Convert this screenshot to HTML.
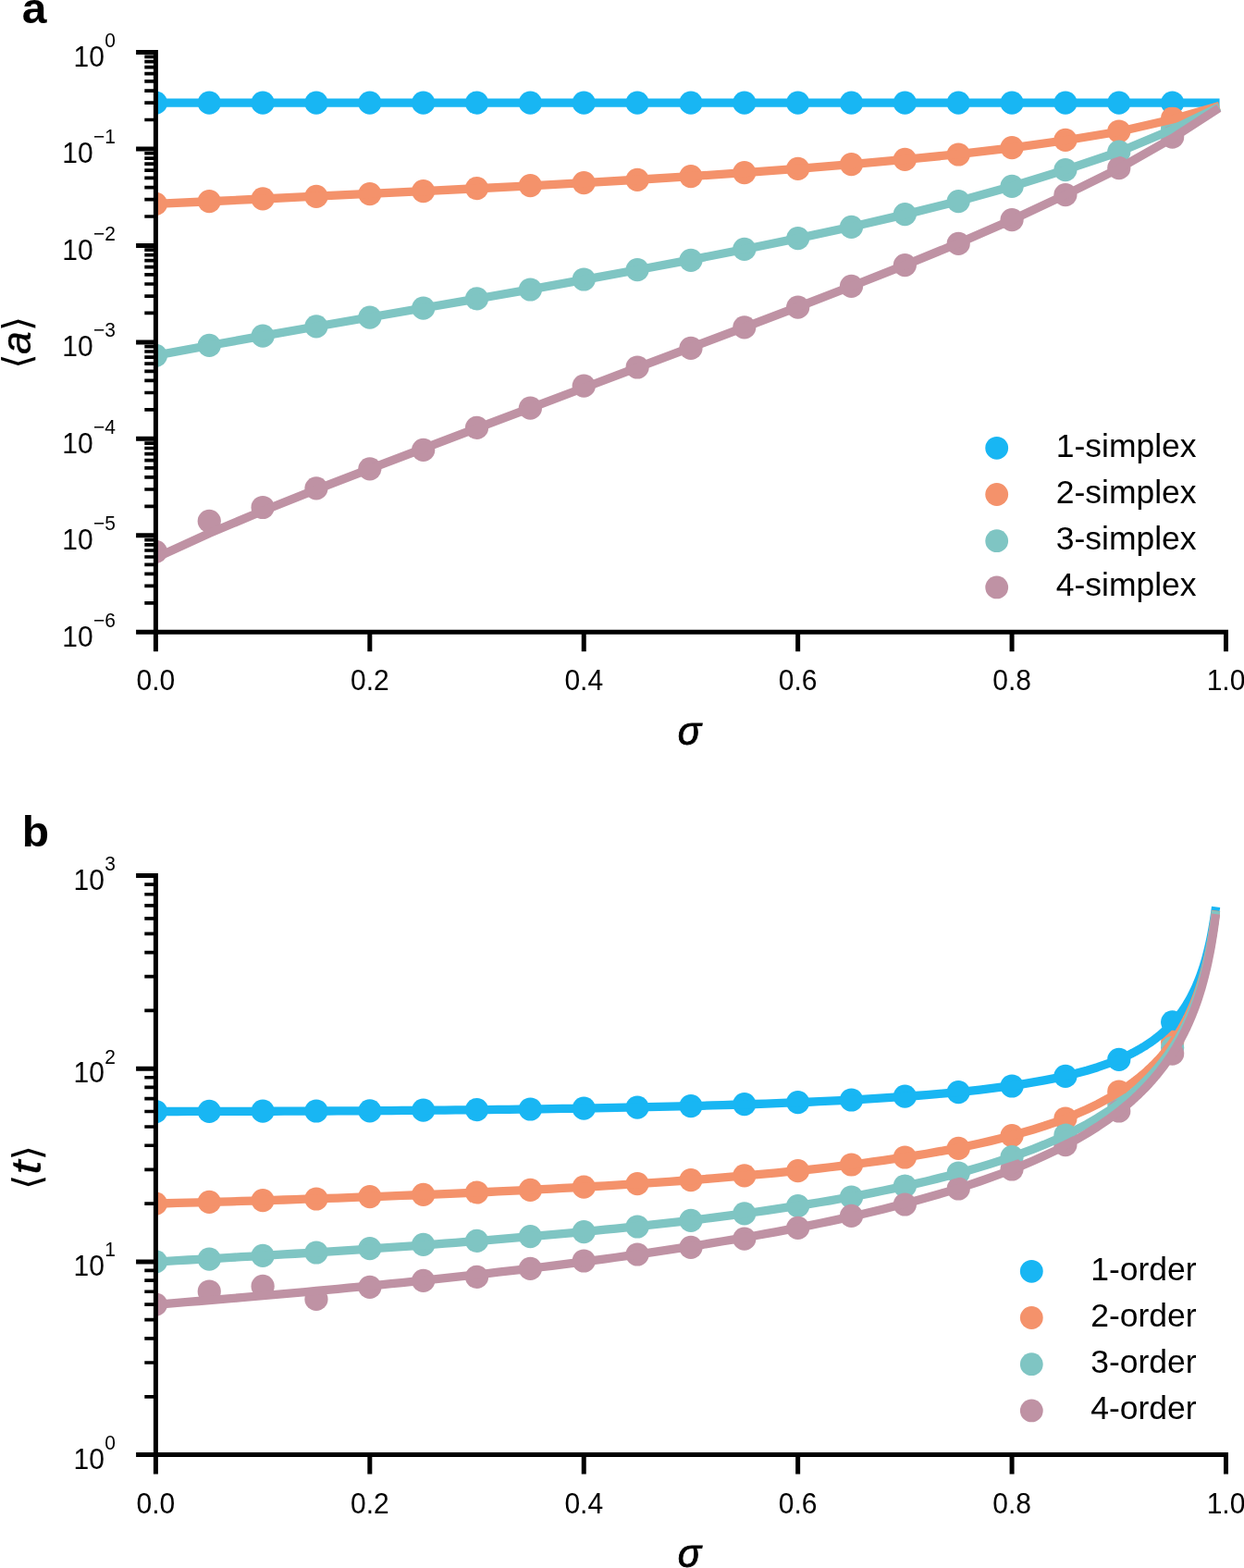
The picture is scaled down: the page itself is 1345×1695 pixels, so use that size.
<!DOCTYPE html>
<html lang="en"><head><meta charset="utf-8"><title>Figure</title>
<style>
html,body{margin:0;padding:0;background:#fff;}
body{width:1345px;height:1695px;overflow:hidden;}
svg{display:block;}
text{font-family:"Liberation Sans",Arial,Helvetica,sans-serif;fill:#000;}
.tk{font-size:30px;}
.sup{font-size:21px;}
.lg{font-size:35.5px;}
.pl{font-size:48px;font-weight:bold;}
.ax{font-size:44px;font-style:italic;stroke:#000;stroke-width:0.4px;}
.sg{font-size:42px;stroke-width:0.8px;}
.br{font-family:"DejaVu Sans","Liberation Sans",sans-serif;font-size:41.8px;}
</style></head><body>
<svg width="1345" height="1695" viewBox="0 0 1345 1695">
<rect x="0" y="0" width="1345" height="1695" fill="#fff"/>
<defs>
<clipPath id="ca"><rect x="168.4" y="56.5" width="1157.1" height="626.8"/></clipPath>
<clipPath id="cb"><rect x="168.4" y="946.5" width="1157.1" height="626.1"/></clipPath>
</defs>
<g clip-path="url(#ca)">
<g fill="#18b6f3">
<circle cx="168.4" cy="111.2" r="12.6"/>
<circle cx="226.25" cy="111.2" r="12.6"/>
<circle cx="284.11" cy="111.2" r="12.6"/>
<circle cx="341.96" cy="111.2" r="12.6"/>
<circle cx="399.82" cy="111.2" r="12.6"/>
<circle cx="457.67" cy="111.2" r="12.6"/>
<circle cx="515.53" cy="111.2" r="12.6"/>
<circle cx="573.38" cy="111.2" r="12.6"/>
<circle cx="631.24" cy="111.2" r="12.6"/>
<circle cx="689.09" cy="111.2" r="12.6"/>
<circle cx="746.95" cy="111.2" r="12.6"/>
<circle cx="804.8" cy="111.2" r="12.6"/>
<circle cx="862.66" cy="111.2" r="12.6"/>
<circle cx="920.51" cy="111.2" r="12.6"/>
<circle cx="978.37" cy="111.2" r="12.6"/>
<circle cx="1036.22" cy="111.2" r="12.6"/>
<circle cx="1094.08" cy="111.2" r="12.6"/>
<circle cx="1151.93" cy="111.2" r="12.6"/>
<circle cx="1209.79" cy="111.2" r="12.6"/>
<circle cx="1267.64" cy="111.2" r="12.6"/>
</g>
<g fill="#f4926b">
<circle cx="168.4" cy="220.4" r="12.6"/>
<circle cx="226.25" cy="217.6" r="12.6"/>
<circle cx="284.11" cy="214.8" r="12.6"/>
<circle cx="341.96" cy="212.4" r="12.6"/>
<circle cx="399.82" cy="209.6" r="12.6"/>
<circle cx="457.67" cy="206.6" r="12.6"/>
<circle cx="515.53" cy="203.6" r="12.6"/>
<circle cx="573.38" cy="200.6" r="12.6"/>
<circle cx="631.24" cy="197.6" r="12.6"/>
<circle cx="689.09" cy="194.4" r="12.6"/>
<circle cx="746.95" cy="190.6" r="12.6"/>
<circle cx="804.8" cy="186.6" r="12.6"/>
<circle cx="862.66" cy="182.4" r="12.6"/>
<circle cx="920.51" cy="177.6" r="12.6"/>
<circle cx="978.37" cy="172.4" r="12.6"/>
<circle cx="1036.22" cy="167" r="12.6"/>
<circle cx="1094.08" cy="159.6" r="12.6"/>
<circle cx="1151.93" cy="151.4" r="12.6"/>
<circle cx="1209.79" cy="142" r="12.6"/>
<circle cx="1267.64" cy="127.8" r="12.6"/>
</g>
<g fill="#7fc5c3">
<circle cx="168.4" cy="384.3" r="12.6"/>
<circle cx="226.25" cy="373.4" r="12.6"/>
<circle cx="284.11" cy="363.2" r="12.6"/>
<circle cx="341.96" cy="352.8" r="12.6"/>
<circle cx="399.82" cy="343.2" r="12.6"/>
<circle cx="457.67" cy="333.2" r="12.6"/>
<circle cx="515.53" cy="322.8" r="12.6"/>
<circle cx="573.38" cy="313" r="12.6"/>
<circle cx="631.24" cy="302" r="12.6"/>
<circle cx="689.09" cy="291.6" r="12.6"/>
<circle cx="746.95" cy="281.3" r="12.6"/>
<circle cx="804.8" cy="269.4" r="12.6"/>
<circle cx="862.66" cy="257.6" r="12.6"/>
<circle cx="920.51" cy="245.4" r="12.6"/>
<circle cx="978.37" cy="231.6" r="12.6"/>
<circle cx="1036.22" cy="217.6" r="12.6"/>
<circle cx="1094.08" cy="201.4" r="12.6"/>
<circle cx="1151.93" cy="183.6" r="12.6"/>
<circle cx="1209.79" cy="164.1" r="12.6"/>
<circle cx="1267.64" cy="138.5" r="12.6"/>
</g>
<g fill="#bf92a4">
<circle cx="168.4" cy="596.4" r="12.6"/>
<circle cx="226.25" cy="563.3" r="12.6"/>
<circle cx="284.11" cy="548.5" r="12.6"/>
<circle cx="341.96" cy="527.8" r="12.6"/>
<circle cx="399.82" cy="506.8" r="12.6"/>
<circle cx="457.67" cy="486.4" r="12.6"/>
<circle cx="515.53" cy="462.4" r="12.6"/>
<circle cx="573.38" cy="441.2" r="12.6"/>
<circle cx="631.24" cy="417.2" r="12.6"/>
<circle cx="689.09" cy="397" r="12.6"/>
<circle cx="746.95" cy="376.4" r="12.6"/>
<circle cx="804.8" cy="353.8" r="12.6"/>
<circle cx="862.66" cy="332.2" r="12.6"/>
<circle cx="920.51" cy="309.3" r="12.6"/>
<circle cx="978.37" cy="286.6" r="12.6"/>
<circle cx="1036.22" cy="263.4" r="12.6"/>
<circle cx="1094.08" cy="237.6" r="12.6"/>
<circle cx="1151.93" cy="210.6" r="12.6"/>
<circle cx="1209.79" cy="181.7" r="12.6"/>
<circle cx="1267.64" cy="148.1" r="12.6"/>
</g>
<polyline fill="none" stroke="#18b6f3" stroke-width="9.3" stroke-linecap="square" stroke-linejoin="round" points="168.4,111.2 226.25,111.2 284.11,111.2 341.96,111.2 399.82,111.2 457.67,111.2 515.53,111.2 573.38,111.2 631.24,111.2 689.09,111.2 746.95,111.2 804.8,111.2 862.66,111.2 920.51,111.2 978.37,111.2 1036.22,111.2 1094.08,111.2 1151.93,111.2 1209.79,111.2 1267.64,111.2 1313.93,111.2"/>
<polyline fill="none" stroke="#f4926b" stroke-width="9.3" stroke-linecap="square" stroke-linejoin="round" points="168.4,220.3 226.25,217.75 284.11,214.99 341.96,212.18 399.82,209.38 457.67,206.59 515.53,203.75 573.38,200.79 631.24,197.64 689.09,194.25 746.95,190.59 804.8,186.61 862.66,182.31 920.51,177.63 978.37,172.48 1036.22,166.67 1094.08,159.92 1151.93,151.74 1209.79,142.23 1267.64,128.99 1313.93,115.7"/>
<polyline fill="none" stroke="#7fc5c3" stroke-width="9.3" stroke-linecap="square" stroke-linejoin="round" points="168.4,384.25 226.25,373.5 284.11,363.13 341.96,353 399.82,343 457.67,333.02 515.53,322.98 573.38,312.8 631.24,302.41 689.09,291.77 746.95,280.82 804.8,269.47 862.66,257.64 920.51,245.18 978.37,231.89 1036.22,217.47 1094.08,201.54 1151.93,183.57 1209.79,164.27 1267.64,140.06 1313.93,117.7"/>
<polyline fill="none" stroke="#bf92a4" stroke-width="9.3" stroke-linecap="square" stroke-linejoin="round" points="168.4,603.05 226.25,576.58 284.11,552.24 341.96,529.19 399.82,506.84 457.67,484.82 515.53,462.93 573.38,441.08 631.24,419.25 689.09,397.43 746.95,375.62 804.8,353.78 862.66,331.81 920.51,309.52 978.37,286.67 1036.22,262.88 1094.08,237.71 1151.93,210.6 1209.79,182.14 1267.64,149.32 1313.93,119.4"/>
</g>
<g stroke="#000" fill="none" stroke-linecap="butt">
<path stroke-width="3.7" d="M156.3 129.52H168.4M156.3 111.12H168.4M156.3 98.07H168.4M156.3 87.95H168.4M156.3 79.68H168.4M156.3 72.68H168.4M156.3 66.62H168.4M156.3 61.28H168.4M156.3 233.99H168.4M156.3 215.59H168.4M156.3 202.54H168.4M156.3 192.41H168.4M156.3 184.14H168.4M156.3 177.15H168.4M156.3 171.09H168.4M156.3 165.75H168.4M156.3 338.45H168.4M156.3 320.06H168.4M156.3 307H168.4M156.3 296.88H168.4M156.3 288.61H168.4M156.3 281.62H168.4M156.3 275.56H168.4M156.3 270.21H168.4M156.3 442.92H168.4M156.3 424.52H168.4M156.3 411.47H168.4M156.3 401.35H168.4M156.3 393.08H168.4M156.3 386.08H168.4M156.3 380.02H168.4M156.3 374.68H168.4M156.3 547.39H168.4M156.3 528.99H168.4M156.3 515.94H168.4M156.3 505.81H168.4M156.3 497.54H168.4M156.3 490.55H168.4M156.3 484.49H168.4M156.3 479.15H168.4M156.3 651.85H168.4M156.3 633.46H168.4M156.3 620.4H168.4M156.3 610.28H168.4M156.3 602.01H168.4M156.3 595.02H168.4M156.3 588.96H168.4M156.3 583.61H168.4"/>
<path stroke-width="5" d="M147.1 56.5H168.4M147.1 160.97H168.4M147.1 265.43H168.4M147.1 369.9H168.4M147.1 474.37H168.4M147.1 578.83H168.4M147.1 683.3H168.4M168.4 683.3V704.3M399.82 683.3V704.3M631.24 683.3V704.3M862.66 683.3V704.3M1094.08 683.3V704.3M1325.5 683.3V704.3M168.4 54V685.8M165.9 683.3H1328"/>
</g>
<text class="tk" transform="translate(124.9,71.7) scale(1,1.03)" text-anchor="end">10<tspan class="sup" dx="0.4" dy="-20.19">0</tspan></text>
<text class="tk" transform="translate(124.9,176.17) scale(1,1.03)" text-anchor="end">10<tspan class="sup" dx="0.4" dy="-20.19">−1</tspan></text>
<text class="tk" transform="translate(124.9,280.63) scale(1,1.03)" text-anchor="end">10<tspan class="sup" dx="0.4" dy="-20.19">−2</tspan></text>
<text class="tk" transform="translate(124.9,385.1) scale(1,1.03)" text-anchor="end">10<tspan class="sup" dx="0.4" dy="-20.19">−3</tspan></text>
<text class="tk" transform="translate(124.9,489.57) scale(1,1.03)" text-anchor="end">10<tspan class="sup" dx="0.4" dy="-20.19">−4</tspan></text>
<text class="tk" transform="translate(124.9,594.03) scale(1,1.03)" text-anchor="end">10<tspan class="sup" dx="0.4" dy="-20.19">−5</tspan></text>
<text class="tk" transform="translate(124.9,698.5) scale(1,1.03)" text-anchor="end">10<tspan class="sup" dx="0.4" dy="-20.19">−6</tspan></text>
<text class="tk" transform="translate(168.4,746.4) scale(1,1.03)" text-anchor="middle">0.0</text>
<text class="tk" transform="translate(399.82,746.4) scale(1,1.03)" text-anchor="middle">0.2</text>
<text class="tk" transform="translate(631.24,746.4) scale(1,1.03)" text-anchor="middle">0.4</text>
<text class="tk" transform="translate(862.66,746.4) scale(1,1.03)" text-anchor="middle">0.6</text>
<text class="tk" transform="translate(1094.08,746.4) scale(1,1.03)" text-anchor="middle">0.8</text>
<text class="tk" transform="translate(1325.5,746.4) scale(1,1.03)" text-anchor="middle">1.0</text>
<text class="ax sg" x="732.7" y="804.6">σ</text>
<text class="br" transform="translate(32.9,398.8) rotate(-90)">⟨</text>
<text class="ax" transform="translate(33,382.75) rotate(-90) scale(1,1)">a</text>
<text class="br" transform="translate(32.9,357.9) rotate(-90)">⟩</text>
<text class="pl" transform="translate(23.7,25.1) scale(1,0.965)">a</text>
<circle cx="1077.7" cy="484.3" r="12.4" fill="#18b6f3"/>
<text class="lg" x="1293.6" y="493.8" text-anchor="end">1-simplex</text>
<circle cx="1077.7" cy="534.5" r="12.4" fill="#f4926b"/>
<text class="lg" x="1293.6" y="544" text-anchor="end">2-simplex</text>
<circle cx="1077.7" cy="584.7" r="12.4" fill="#7fc5c3"/>
<text class="lg" x="1293.6" y="594.2" text-anchor="end">3-simplex</text>
<circle cx="1077.7" cy="634.9" r="12.4" fill="#bf92a4"/>
<text class="lg" x="1293.6" y="644.4" text-anchor="end">4-simplex</text>
<g clip-path="url(#cb)">
<g fill="#18b6f3">
<circle cx="168.4" cy="1201.5" r="12.6"/>
<circle cx="226.25" cy="1201.4" r="12.6"/>
<circle cx="284.11" cy="1201.2" r="12.6"/>
<circle cx="341.96" cy="1201" r="12.6"/>
<circle cx="399.82" cy="1200.8" r="12.6"/>
<circle cx="457.67" cy="1200.2" r="12.6"/>
<circle cx="515.53" cy="1199.6" r="12.6"/>
<circle cx="573.38" cy="1199" r="12.6"/>
<circle cx="631.24" cy="1198.2" r="12.6"/>
<circle cx="689.09" cy="1197.1" r="12.6"/>
<circle cx="746.95" cy="1195.6" r="12.6"/>
<circle cx="804.8" cy="1193.6" r="12.6"/>
<circle cx="862.66" cy="1191.6" r="12.6"/>
<circle cx="920.51" cy="1189" r="12.6"/>
<circle cx="978.37" cy="1185.2" r="12.6"/>
<circle cx="1036.22" cy="1180.6" r="12.6"/>
<circle cx="1094.08" cy="1174" r="12.6"/>
<circle cx="1151.93" cy="1163.4" r="12.6"/>
<circle cx="1209.79" cy="1145.4" r="12.6"/>
<circle cx="1267.64" cy="1104.8" r="12.6"/>
</g>
<g fill="#f4926b">
<circle cx="168.4" cy="1301.1" r="12.6"/>
<circle cx="226.25" cy="1299.4" r="12.6"/>
<circle cx="284.11" cy="1297.6" r="12.6"/>
<circle cx="341.96" cy="1296" r="12.6"/>
<circle cx="399.82" cy="1293.6" r="12.6"/>
<circle cx="457.67" cy="1291.4" r="12.6"/>
<circle cx="515.53" cy="1289" r="12.6"/>
<circle cx="573.38" cy="1286.4" r="12.6"/>
<circle cx="631.24" cy="1283.2" r="12.6"/>
<circle cx="689.09" cy="1279.6" r="12.6"/>
<circle cx="746.95" cy="1275.6" r="12.6"/>
<circle cx="804.8" cy="1270.8" r="12.6"/>
<circle cx="862.66" cy="1265.6" r="12.6"/>
<circle cx="920.51" cy="1259" r="12.6"/>
<circle cx="978.37" cy="1251" r="12.6"/>
<circle cx="1036.22" cy="1241.4" r="12.6"/>
<circle cx="1094.08" cy="1227.6" r="12.6"/>
<circle cx="1151.93" cy="1209" r="12.6"/>
<circle cx="1209.79" cy="1180" r="12.6"/>
<circle cx="1267.64" cy="1126.4" r="12.6"/>
</g>
<g fill="#7fc5c3">
<circle cx="168.4" cy="1363.9" r="12.6"/>
<circle cx="226.25" cy="1361.2" r="12.6"/>
<circle cx="284.11" cy="1357.4" r="12.6"/>
<circle cx="341.96" cy="1354" r="12.6"/>
<circle cx="399.82" cy="1349.6" r="12.6"/>
<circle cx="457.67" cy="1345.4" r="12.6"/>
<circle cx="515.53" cy="1341.4" r="12.6"/>
<circle cx="573.38" cy="1336.6" r="12.6"/>
<circle cx="631.24" cy="1331.6" r="12.6"/>
<circle cx="689.09" cy="1326" r="12.6"/>
<circle cx="746.95" cy="1319.4" r="12.6"/>
<circle cx="804.8" cy="1311.8" r="12.6"/>
<circle cx="862.66" cy="1303.6" r="12.6"/>
<circle cx="920.51" cy="1294" r="12.6"/>
<circle cx="978.37" cy="1282" r="12.6"/>
<circle cx="1036.22" cy="1268" r="12.6"/>
<circle cx="1094.08" cy="1250.6" r="12.6"/>
<circle cx="1151.93" cy="1227" r="12.6"/>
<circle cx="1209.79" cy="1193" r="12.6"/>
<circle cx="1267.64" cy="1132.6" r="12.6"/>
</g>
<g fill="#bf92a4">
<circle cx="168.4" cy="1410" r="12.6"/>
<circle cx="226.25" cy="1396" r="12.6"/>
<circle cx="284.11" cy="1390.4" r="12.6"/>
<circle cx="341.96" cy="1404.4" r="12.6"/>
<circle cx="399.82" cy="1391.4" r="12.6"/>
<circle cx="457.67" cy="1384.4" r="12.6"/>
<circle cx="515.53" cy="1380.4" r="12.6"/>
<circle cx="573.38" cy="1371.4" r="12.6"/>
<circle cx="631.24" cy="1363" r="12.6"/>
<circle cx="689.09" cy="1356" r="12.6"/>
<circle cx="746.95" cy="1348.4" r="12.6"/>
<circle cx="804.8" cy="1339.2" r="12.6"/>
<circle cx="862.66" cy="1327.4" r="12.6"/>
<circle cx="920.51" cy="1314.4" r="12.6"/>
<circle cx="978.37" cy="1302" r="12.6"/>
<circle cx="1036.22" cy="1285" r="12.6"/>
<circle cx="1094.08" cy="1264" r="12.6"/>
<circle cx="1151.93" cy="1237.6" r="12.6"/>
<circle cx="1209.79" cy="1201" r="12.6"/>
<circle cx="1267.64" cy="1139.1" r="12.6"/>
</g>
<polyline fill="none" stroke="#18b6f3" stroke-width="9.3" stroke-linecap="square" stroke-linejoin="round" points="168.4,1201.5 179.97,1201.49 191.54,1201.48 203.11,1201.46 214.68,1201.44 226.25,1201.42 237.83,1201.4 249.4,1201.37 260.97,1201.34 272.54,1201.31 284.11,1201.27 295.68,1201.23 307.25,1201.19 318.82,1201.14 330.39,1201.09 341.96,1201.04 353.54,1200.98 365.11,1200.91 376.68,1200.85 388.25,1200.78 399.82,1200.7 411.39,1200.62 422.96,1200.54 434.53,1200.45 446.1,1200.36 457.67,1200.26 469.25,1200.16 480.82,1200.05 492.39,1199.94 503.96,1199.82 515.53,1199.69 527.1,1199.56 538.67,1199.43 550.24,1199.28 561.81,1199.13 573.38,1198.98 584.96,1198.81 596.53,1198.64 608.1,1198.46 619.67,1198.28 631.24,1198.08 642.81,1197.88 654.38,1197.67 665.95,1197.45 677.52,1197.22 689.09,1196.98 700.67,1196.72 712.24,1196.46 723.81,1196.19 735.38,1195.9 746.95,1195.6 758.52,1195.29 770.09,1194.96 781.66,1194.62 793.23,1194.26 804.8,1193.89 816.38,1193.49 827.95,1193.08 839.52,1192.65 851.09,1192.2 862.66,1191.73 874.23,1191.23 885.8,1190.71 897.37,1190.16 908.94,1189.58 920.51,1188.97 932.09,1188.33 943.66,1187.65 955.23,1186.93 966.8,1186.17 978.37,1185.36 989.94,1184.51 1001.51,1183.6 1013.08,1182.63 1024.65,1181.59 1036.22,1180.49 1047.8,1179.31 1059.37,1178.04 1070.94,1176.67 1082.51,1175.19 1094.08,1173.59 1105.65,1171.86 1117.22,1169.96 1128.79,1167.89 1140.36,1165.62 1151.93,1163.11 1163.51,1160.32 1175.08,1157.2 1186.65,1153.7 1198.22,1149.72 1209.79,1145.17 1210.95,1144.67 1212.1,1144.17 1213.26,1143.67 1214.42,1143.15 1215.58,1142.63 1216.73,1142.1 1217.89,1141.56 1219.05,1141.01 1220.2,1140.46 1221.36,1139.89 1222.52,1139.32 1223.68,1138.74 1224.83,1138.14 1225.99,1137.54 1227.15,1136.93 1228.3,1136.31 1229.46,1135.67 1230.62,1135.03 1231.77,1134.37 1232.93,1133.71 1234.09,1133.03 1235.25,1132.34 1236.4,1131.63 1237.56,1130.92 1238.72,1130.19 1239.87,1129.44 1241.03,1128.69 1242.19,1127.92 1243.35,1127.13 1244.5,1126.33 1245.66,1125.51 1246.82,1124.67 1247.97,1123.82 1249.13,1122.95 1250.29,1122.07 1251.45,1121.16 1252.6,1120.24 1253.76,1119.29 1254.92,1118.32 1256.07,1117.34 1257.23,1116.33 1258.39,1115.29 1259.55,1114.24 1260.7,1113.16 1261.86,1112.05 1263.02,1110.91 1264.17,1109.75 1265.33,1108.56 1266.49,1107.34 1267.64,1106.08 1268.8,1104.8 1269.96,1103.48 1271.12,1102.12 1272.27,1100.72 1273.43,1099.29 1274.59,1097.81 1275.74,1096.3 1276.9,1094.73 1278.06,1093.12 1279.22,1091.46 1280.37,1089.74 1281.53,1087.97 1282.69,1086.14 1283.84,1084.25 1285,1082.29 1286.16,1080.26 1287.32,1078.16 1288.47,1075.97 1289.63,1073.71 1290.79,1071.35 1291.94,1068.89 1293.1,1066.34 1294.26,1063.67 1295.42,1060.88 1296.57,1057.96 1297.73,1054.9 1298.89,1051.69 1300.04,1048.31 1301.2,1044.75 1302.36,1040.99 1303.52,1037 1304.67,1032.77 1305.83,1028.26 1306.99,1023.45 1308.14,1018.28 1309.3,1012.72 1310.46,1006.7 1311.61,1000.14 1312.77,992.96 1313.93,985.04"/>
<polyline fill="none" stroke="#f4926b" stroke-width="9.3" stroke-linecap="square" stroke-linejoin="round" points="168.4,1301.08 179.97,1300.76 191.54,1300.44 203.11,1300.12 214.68,1299.79 226.25,1299.46 237.83,1299.12 249.4,1298.78 260.97,1298.43 272.54,1298.08 284.11,1297.72 295.68,1297.35 307.25,1296.98 318.82,1296.6 330.39,1296.22 341.96,1295.83 353.54,1295.43 365.11,1295.03 376.68,1294.62 388.25,1294.2 399.82,1293.77 411.39,1293.34 422.96,1292.89 434.53,1292.44 446.1,1291.98 457.67,1291.52 469.25,1291.04 480.82,1290.55 492.39,1290.05 503.96,1289.55 515.53,1289.03 527.1,1288.5 538.67,1287.96 550.24,1287.4 561.81,1286.84 573.38,1286.26 584.96,1285.67 596.53,1285.06 608.1,1284.45 619.67,1283.81 631.24,1283.16 642.81,1282.49 654.38,1281.81 665.95,1281.11 677.52,1280.39 689.09,1279.65 700.67,1278.89 712.24,1278.11 723.81,1277.31 735.38,1276.49 746.95,1275.64 758.52,1274.77 770.09,1273.87 781.66,1272.94 793.23,1271.98 804.8,1270.99 816.38,1269.97 827.95,1268.92 839.52,1267.83 851.09,1266.7 862.66,1265.53 874.23,1264.32 885.8,1263.06 897.37,1261.75 908.94,1260.4 920.51,1258.98 932.09,1257.51 943.66,1255.98 955.23,1254.38 966.8,1252.71 978.37,1250.97 989.94,1249.14 1001.51,1247.22 1013.08,1245.2 1024.65,1243.08 1036.22,1240.85 1047.8,1238.49 1059.37,1235.99 1070.94,1233.35 1082.51,1230.54 1094.08,1227.55 1105.65,1224.35 1117.22,1220.93 1128.79,1217.26 1140.36,1213.3 1151.93,1209.01 1163.51,1204.35 1175.08,1199.25 1186.65,1193.65 1198.22,1187.45 1209.79,1180.53 1210.95,1179.79 1212.1,1179.04 1213.26,1178.29 1214.42,1177.52 1215.58,1176.75 1216.73,1175.97 1217.89,1175.17 1219.05,1174.37 1220.2,1173.55 1221.36,1172.73 1222.52,1171.89 1223.68,1171.05 1224.83,1170.19 1225.99,1169.32 1227.15,1168.44 1228.3,1167.55 1229.46,1166.64 1230.62,1165.72 1231.77,1164.79 1232.93,1163.84 1234.09,1162.88 1235.25,1161.91 1236.4,1160.92 1237.56,1159.92 1238.72,1158.9 1239.87,1157.87 1241.03,1156.82 1242.19,1155.75 1243.35,1154.67 1244.5,1153.57 1245.66,1152.45 1246.82,1151.31 1247.97,1150.15 1249.13,1148.98 1250.29,1147.78 1251.45,1146.56 1252.6,1145.32 1253.76,1144.06 1254.92,1142.77 1256.07,1141.46 1257.23,1140.13 1258.39,1138.77 1259.55,1137.38 1260.7,1135.97 1261.86,1134.52 1263.02,1133.05 1264.17,1131.55 1265.33,1130.01 1266.49,1128.45 1267.64,1126.84 1268.8,1125.2 1269.96,1123.53 1271.12,1121.81 1272.27,1120.06 1273.43,1118.26 1274.59,1116.42 1275.74,1114.53 1276.9,1112.6 1278.06,1110.61 1279.22,1108.57 1280.37,1106.47 1281.53,1104.31 1282.69,1102.09 1283.84,1099.81 1285,1097.46 1286.16,1095.03 1287.32,1092.52 1288.47,1089.93 1289.63,1087.26 1290.79,1084.49 1291.94,1081.62 1293.1,1078.64 1294.26,1075.54 1295.42,1072.33 1296.57,1068.98 1297.73,1065.48 1298.89,1061.83 1300.04,1058 1301.2,1053.99 1302.36,1049.78 1303.52,1045.34 1304.67,1040.64 1305.83,1035.67 1306.99,1030.38 1308.14,1024.74 1309.3,1018.7 1310.46,1012.19 1311.61,1005.15 1312.77,997.47 1313.93,989.04"/>
<polyline fill="none" stroke="#7fc5c3" stroke-width="9.3" stroke-linecap="square" stroke-linejoin="round" points="168.4,1363.9 179.97,1363.28 191.54,1362.65 203.11,1362.01 214.68,1361.37 226.25,1360.72 237.83,1360.07 249.4,1359.4 260.97,1358.73 272.54,1358.05 284.11,1357.37 295.68,1356.67 307.25,1355.97 318.82,1355.26 330.39,1354.54 341.96,1353.81 353.54,1353.07 365.11,1352.32 376.68,1351.56 388.25,1350.79 399.82,1350.01 411.39,1349.22 422.96,1348.41 434.53,1347.6 446.1,1346.77 457.67,1345.93 469.25,1345.08 480.82,1344.21 492.39,1343.33 503.96,1342.43 515.53,1341.52 527.1,1340.6 538.67,1339.65 550.24,1338.7 561.81,1337.72 573.38,1336.73 584.96,1335.71 596.53,1334.68 608.1,1333.63 619.67,1332.56 631.24,1331.47 642.81,1330.35 654.38,1329.21 665.95,1328.05 677.52,1326.86 689.09,1325.65 700.67,1324.41 712.24,1323.14 723.81,1321.84 735.38,1320.51 746.95,1319.16 758.52,1317.76 770.09,1316.33 781.66,1314.87 793.23,1313.37 804.8,1311.83 816.38,1310.24 827.95,1308.61 839.52,1306.94 851.09,1305.22 862.66,1303.44 874.23,1301.62 885.8,1299.73 897.37,1297.79 908.94,1295.78 920.51,1293.71 932.09,1291.57 943.66,1289.35 955.23,1287.05 966.8,1284.66 978.37,1282.18 989.94,1279.61 1001.51,1276.93 1013.08,1274.14 1024.65,1271.22 1036.22,1268.18 1047.8,1264.99 1059.37,1261.65 1070.94,1258.14 1082.51,1254.44 1094.08,1250.54 1105.65,1246.42 1117.22,1242.05 1128.79,1237.41 1140.36,1232.45 1151.93,1227.14 1163.51,1221.43 1175.08,1215.25 1186.65,1208.55 1198.22,1201.21 1209.79,1193.13 1210.95,1192.27 1212.1,1191.41 1213.26,1190.53 1214.42,1189.65 1215.58,1188.75 1216.73,1187.85 1217.89,1186.94 1219.05,1186.01 1220.2,1185.08 1221.36,1184.13 1222.52,1183.18 1223.68,1182.21 1224.83,1181.23 1225.99,1180.24 1227.15,1179.23 1228.3,1178.21 1229.46,1177.19 1230.62,1176.14 1231.77,1175.09 1232.93,1174.02 1234.09,1172.93 1235.25,1171.83 1236.4,1170.72 1237.56,1169.59 1238.72,1168.45 1239.87,1167.29 1241.03,1166.11 1242.19,1164.92 1243.35,1163.71 1244.5,1162.48 1245.66,1161.23 1246.82,1159.96 1247.97,1158.68 1249.13,1157.37 1250.29,1156.04 1251.45,1154.69 1252.6,1153.32 1253.76,1151.93 1254.92,1150.51 1256.07,1149.07 1257.23,1147.6 1258.39,1146.11 1259.55,1144.59 1260.7,1143.04 1261.86,1141.47 1263.02,1139.86 1264.17,1138.22 1265.33,1136.55 1266.49,1134.85 1267.64,1133.11 1268.8,1131.34 1269.96,1129.53 1271.12,1127.67 1272.27,1125.78 1273.43,1123.85 1274.59,1121.87 1275.74,1119.84 1276.9,1117.77 1278.06,1115.64 1279.22,1113.46 1280.37,1111.22 1281.53,1108.92 1282.69,1106.56 1283.84,1104.14 1285,1101.64 1286.16,1099.07 1287.32,1096.42 1288.47,1093.69 1289.63,1090.87 1290.79,1087.96 1291.94,1084.94 1293.1,1081.82 1294.26,1078.58 1295.42,1075.22 1296.57,1071.72 1297.73,1068.08 1298.89,1064.28 1300.04,1060.31 1301.2,1056.15 1302.36,1051.78 1303.52,1047.19 1304.67,1042.35 1305.83,1037.23 1306.99,1031.79 1308.14,1026 1309.3,1019.8 1310.46,1013.14 1311.61,1005.95 1312.77,998.12 1313.93,989.54"/>
<polyline fill="none" stroke="#bf92a4" stroke-width="9.3" stroke-linecap="square" stroke-linejoin="round" points="168.4,1410.2 179.97,1409.29 191.54,1408.37 203.11,1407.44 214.68,1406.5 226.25,1405.55 237.83,1404.59 249.4,1403.62 260.97,1402.64 272.54,1401.65 284.11,1400.65 295.68,1399.64 307.25,1398.61 318.82,1397.58 330.39,1396.53 341.96,1395.47 353.54,1394.4 365.11,1393.31 376.68,1392.21 388.25,1391.1 399.82,1389.97 411.39,1388.83 422.96,1387.68 434.53,1386.51 446.1,1385.33 457.67,1384.13 469.25,1382.91 480.82,1381.68 492.39,1380.43 503.96,1379.16 515.53,1377.87 527.1,1376.57 538.67,1375.24 550.24,1373.9 561.81,1372.54 573.38,1371.15 584.96,1369.75 596.53,1368.32 608.1,1366.87 619.67,1365.4 631.24,1363.9 642.81,1362.38 654.38,1360.83 665.95,1359.25 677.52,1357.65 689.09,1356.01 700.67,1354.35 712.24,1352.66 723.81,1350.93 735.38,1349.17 746.95,1347.37 758.52,1345.54 770.09,1343.67 781.66,1341.77 793.23,1339.82 804.8,1337.83 816.38,1335.79 827.95,1333.7 839.52,1331.57 851.09,1329.39 862.66,1327.15 874.23,1324.86 885.8,1322.5 897.37,1320.08 908.94,1317.6 920.51,1315.05 932.09,1312.42 943.66,1309.71 955.23,1306.92 966.8,1304.05 978.37,1301.08 989.94,1298 1001.51,1294.82 1013.08,1291.53 1024.65,1288.1 1036.22,1284.55 1047.8,1280.85 1059.37,1276.99 1070.94,1272.96 1082.51,1268.75 1094.08,1264.32 1105.65,1259.68 1117.22,1254.78 1128.79,1249.59 1140.36,1244.1 1151.93,1238.25 1163.51,1232 1175.08,1225.28 1186.65,1218.02 1198.22,1210.14 1209.79,1201.5 1210.95,1200.59 1212.1,1199.67 1213.26,1198.74 1214.42,1197.8 1215.58,1196.85 1216.73,1195.89 1217.89,1194.92 1219.05,1193.94 1220.2,1192.95 1221.36,1191.95 1222.52,1190.94 1223.68,1189.91 1224.83,1188.88 1225.99,1187.83 1227.15,1186.77 1228.3,1185.7 1229.46,1184.61 1230.62,1183.51 1231.77,1182.4 1232.93,1181.27 1234.09,1180.13 1235.25,1178.98 1236.4,1177.81 1237.56,1176.63 1238.72,1175.43 1239.87,1174.21 1241.03,1172.98 1242.19,1171.73 1243.35,1170.46 1244.5,1169.17 1245.66,1167.87 1246.82,1166.54 1247.97,1165.2 1249.13,1163.84 1250.29,1162.45 1251.45,1161.05 1252.6,1159.62 1253.76,1158.17 1254.92,1156.7 1256.07,1155.2 1257.23,1153.68 1258.39,1152.13 1259.55,1150.55 1260.7,1148.95 1261.86,1147.31 1263.02,1145.65 1264.17,1143.96 1265.33,1142.23 1266.49,1140.47 1267.64,1138.67 1268.8,1136.84 1269.96,1134.97 1271.12,1133.07 1272.27,1131.12 1273.43,1129.13 1274.59,1127.09 1275.74,1125 1276.9,1122.87 1278.06,1120.69 1279.22,1118.45 1280.37,1116.16 1281.53,1113.8 1282.69,1111.38 1283.84,1108.9 1285,1106.35 1286.16,1103.72 1287.32,1101.01 1288.47,1098.22 1289.63,1095.35 1290.79,1092.38 1291.94,1089.3 1293.1,1086.12 1294.26,1082.83 1295.42,1079.4 1296.57,1075.85 1297.73,1072.15 1298.89,1068.29 1300.04,1064.26 1301.2,1060.05 1302.36,1055.62 1303.52,1050.98 1304.67,1046.08 1305.83,1040.89 1306.99,1035.4 1308.14,1029.55 1309.3,1023.3 1310.46,1016.58 1311.61,1009.32 1312.77,1001.44 1313.93,992.8"/>
</g>
<g stroke="#000" fill="none" stroke-linecap="butt">
<path stroke-width="3.7" d="M156.3 1092.38H168.4M156.3 1055.62H168.4M156.3 1029.55H168.4M156.3 1009.32H168.4M156.3 992.8H168.4M156.3 978.83H168.4M156.3 966.73H168.4M156.3 956.05H168.4M156.3 1301.08H168.4M156.3 1264.32H168.4M156.3 1238.25H168.4M156.3 1218.02H168.4M156.3 1201.5H168.4M156.3 1187.53H168.4M156.3 1175.43H168.4M156.3 1164.75H168.4M156.3 1509.78H168.4M156.3 1473.02H168.4M156.3 1446.95H168.4M156.3 1426.72H168.4M156.3 1410.2H168.4M156.3 1396.23H168.4M156.3 1384.13H168.4M156.3 1373.45H168.4"/>
<path stroke-width="5" d="M147.1 946.5H168.4M147.1 1155.2H168.4M147.1 1363.9H168.4M147.1 1572.6H168.4M168.4 1572.6V1593.6M399.82 1572.6V1593.6M631.24 1572.6V1593.6M862.66 1572.6V1593.6M1094.08 1572.6V1593.6M1325.5 1572.6V1593.6M168.4 944V1575.1M165.9 1572.6H1328"/>
</g>
<text class="tk" transform="translate(124.9,961.7) scale(1,1.03)" text-anchor="end">10<tspan class="sup" dx="0.4" dy="-20.19">3</tspan></text>
<text class="tk" transform="translate(124.9,1170.4) scale(1,1.03)" text-anchor="end">10<tspan class="sup" dx="0.4" dy="-20.19">2</tspan></text>
<text class="tk" transform="translate(124.9,1379.1) scale(1,1.03)" text-anchor="end">10<tspan class="sup" dx="0.4" dy="-20.19">1</tspan></text>
<text class="tk" transform="translate(124.9,1587.8) scale(1,1.03)" text-anchor="end">10<tspan class="sup" dx="0.4" dy="-20.19">0</tspan></text>
<text class="tk" transform="translate(168.4,1635.7) scale(1,1.03)" text-anchor="middle">0.0</text>
<text class="tk" transform="translate(399.82,1635.7) scale(1,1.03)" text-anchor="middle">0.2</text>
<text class="tk" transform="translate(631.24,1635.7) scale(1,1.03)" text-anchor="middle">0.4</text>
<text class="tk" transform="translate(862.66,1635.7) scale(1,1.03)" text-anchor="middle">0.6</text>
<text class="tk" transform="translate(1094.08,1635.7) scale(1,1.03)" text-anchor="middle">0.8</text>
<text class="tk" transform="translate(1325.5,1635.7) scale(1,1.03)" text-anchor="middle">1.0</text>
<text class="ax sg" x="732.7" y="1693.9">σ</text>
<text class="br" transform="translate(44.45,1285.95) rotate(-90)">⟨</text>
<text class="ax" transform="translate(43.8,1269.4) rotate(-90) scale(1.22,1)">t</text>
<text class="br" transform="translate(44.45,1254.25) rotate(-90)">⟩</text>
<text class="pl" transform="translate(23.7,915.1) scale(1,0.965)">b</text>
<circle cx="1115.3" cy="1374.3" r="12.4" fill="#18b6f3"/>
<text class="lg" x="1293.6" y="1383.8" text-anchor="end">1-order</text>
<circle cx="1115.3" cy="1424.5" r="12.4" fill="#f4926b"/>
<text class="lg" x="1293.6" y="1434" text-anchor="end">2-order</text>
<circle cx="1115.3" cy="1474.7" r="12.4" fill="#7fc5c3"/>
<text class="lg" x="1293.6" y="1484.2" text-anchor="end">3-order</text>
<circle cx="1115.3" cy="1524.9" r="12.4" fill="#bf92a4"/>
<text class="lg" x="1293.6" y="1534.4" text-anchor="end">4-order</text>
</svg>
</body></html>
